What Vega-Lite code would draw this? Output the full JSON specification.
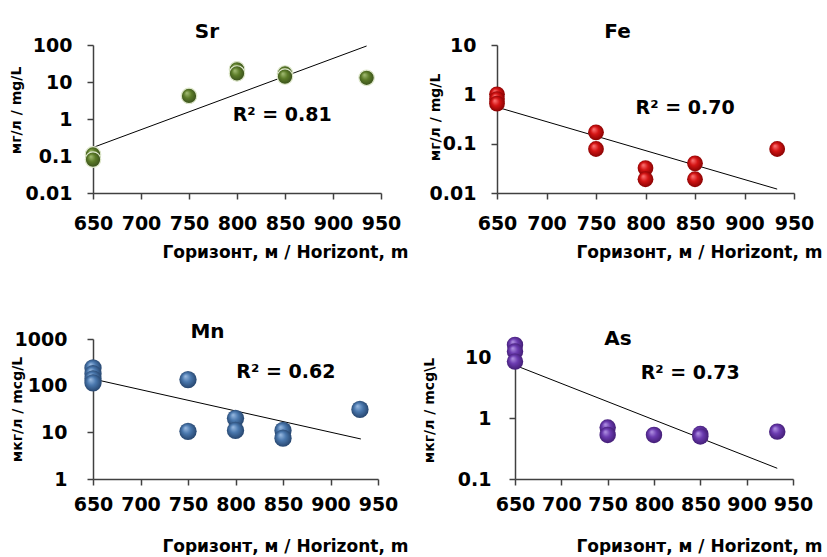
{
  "$schema": "https://vega.github.io/schema/vega-lite/v6.json",
  "background": "white",
  "padding": {"left": 9, "top": 22, "right": 2, "bottom": 1},
  "autosize": {"type": "pad"},
  "config": {
    "view": {"stroke": null},
    "font": "DejaVu Sans",
    "axis": {
      "grid": false,
      "labelFont": "DejaVu Sans", "labelFontWeight": "bold", "labelFontSize": 19, "labelColor": "#000",
      "titleFont": "DejaVu Sans", "titleFontWeight": "bold", "titleFontSize": 17, "titleColor": "#000",
      "domainColor": "#404040", "tickColor": "#404040", "domainWidth": 1.5, "tickWidth": 1.5, "tickSize": 6,
      "labelFlush": false, "labelOverlap": false
    },
    "title": {"font": "DejaVu Sans", "fontWeight": "bold", "fontSize": 20, "color": "#000", "baseline": "alphabetic", "anchor": "middle", "frame": "group"}
  },
  "datasets": {
    "sr": [{"h": 650, "v": 0.11}, {"h": 650, "v": 0.08}, {"h": 750, "v": 4.2}, {"h": 800, "v": 22}, {"h": 800, "v": 17}, {"h": 850, "v": 17}, {"h": 850, "v": 14}, {"h": 935, "v": 13}],
    "srTrend": [{"h": 650, "v": 0.17}, {"h": 935, "v": 94}],
    "fe": [{"h": 650, "v": 1.0}, {"h": 650, "v": 0.8}, {"h": 650, "v": 0.65}, {"h": 750, "v": 0.17}, {"h": 750, "v": 0.078}, {"h": 800, "v": 0.032}, {"h": 800, "v": 0.019}, {"h": 850, "v": 0.04}, {"h": 850, "v": 0.019}, {"h": 933, "v": 0.078}],
    "feTrend": [{"h": 650, "v": 0.55}, {"h": 933, "v": 0.012}],
    "mn": [{"h": 650, "v": 240}, {"h": 650, "v": 180}, {"h": 650, "v": 140}, {"h": 650, "v": 115}, {"h": 750, "v": 135}, {"h": 750, "v": 10.5}, {"h": 800, "v": 20}, {"h": 800, "v": 11}, {"h": 850, "v": 11}, {"h": 850, "v": 7.5}, {"h": 931, "v": 31}],
    "mnTrend": [{"h": 650, "v": 139}, {"h": 932, "v": 7.2}],
    "as": [{"h": 650, "v": 16}, {"h": 650, "v": 12.5}, {"h": 650, "v": 8.5}, {"h": 750, "v": 0.7}, {"h": 750, "v": 0.53}, {"h": 800, "v": 0.53}, {"h": 850, "v": 0.55}, {"h": 850, "v": 0.5}, {"h": 933, "v": 0.6}],
    "asTrend": [{"h": 650, "v": 7.4}, {"h": 933, "v": 0.15}],
    "srLab": [{"h": 847, "v": 1.28, "t": "R² = 0.81"}],
    "feLab": [{"h": 840, "v": 0.54, "t": "R² = 0.70"}],
    "mnLab": [{"h": 853, "v": 201, "t": "R² = 0.62"}],
    "asLab": [{"h": 839, "v": 5.57, "t": "R² = 0.73"}]
  },
  "spacing": 62,
  "vconcat": [
    {
      "spacing": 20,
      "hconcat": [
        {
          "width": 288, "height": 148,
          "title": {"text": "Sr", "offset": -6, "dx": -30},
          "encoding": {
            "x": {"field": "h", "type": "quantitative", "scale": {"domain": [650, 950], "nice": false, "zero": false},
              "axis": {"values": [650, 700, 750, 800, 850, 900, 950], "format": "d", "labelPadding": 15, "title": "Горизонт, м / Horizont, m", "titleAlign": "right", "titleX": 315, "titleY": 64, "titleBaseline": "alphabetic"}},
            "y": {"field": "v", "type": "quantitative", "scale": {"type": "log", "domain": [0.01, 100], "nice": false},
              "axis": {"values": [0.01, 0.1, 1, 10, 100], "format": "~g", "labelPadding": 15, "title": "мг/л / mg/L", "titleFontSize": 14, "titleX": -70, "titleY": 65, "titleAngle": 270, "titleAlign": "center", "titleBaseline": "bottom"}}
          },
          "layer": [
            {"data": {"name": "srTrend"}, "mark": {"type": "line", "color": "#000", "strokeWidth": 1}},
            {"data": {"name": "sr"}, "mark": {"type": "circle", "size": 240, "opacity": 1, "stroke": "#dfe8cc", "strokeWidth": 1.2,
              "fill": {"gradient": "radial", "x1": 0.35, "y1": 0.3, "r1": 0, "x2": 0.5, "y2": 0.5, "r2": 0.55, "stops": [{"offset": 0, "color": "#a6bf78"}, {"offset": 0.45, "color": "#5c7c28"}, {"offset": 1, "color": "#34491a"}]}}},
            {"data": {"name": "srLab"}, "mark": {"type": "text", "font": "DejaVu Sans", "fontWeight": "bold", "fontSize": 19, "color": "#000", "align": "center", "baseline": "middle"}, "encoding": {"text": {"field": "t"}}}
          ]
        },
        {
          "width": 297, "height": 148,
          "title": {"text": "Fe", "offset": -6, "dx": -28},
          "encoding": {
            "x": {"field": "h", "type": "quantitative", "scale": {"domain": [650, 950], "nice": false, "zero": false},
              "axis": {"values": [650, 700, 750, 800, 850, 900, 950], "format": "d", "labelPadding": 15, "title": "Горизонт, м / Horizont, m", "titleAlign": "right", "titleX": 325, "titleY": 64, "titleBaseline": "alphabetic"}},
            "y": {"field": "v", "type": "quantitative", "scale": {"type": "log", "domain": [0.01, 10], "nice": false},
              "axis": {"values": [0.01, 0.1, 1, 10], "format": "~g", "labelPadding": 15, "title": "мг/л / mg/L", "titleFontSize": 14, "titleX": -55, "titleY": 72, "titleAngle": 270, "titleAlign": "center", "titleBaseline": "bottom"}}
          },
          "layer": [
            {"data": {"name": "feTrend"}, "mark": {"type": "line", "color": "#000", "strokeWidth": 1}},
            {"data": {"name": "fe"}, "mark": {"type": "circle", "size": 250, "opacity": 1,
              "fill": {"gradient": "radial", "x1": 0.35, "y1": 0.3, "r1": 0, "x2": 0.5, "y2": 0.5, "r2": 0.55, "stops": [{"offset": 0, "color": "#ff7a7a"}, {"offset": 0.45, "color": "#d41414"}, {"offset": 1, "color": "#7e0000"}]}}},
            {"data": {"name": "feLab"}, "mark": {"type": "text", "font": "DejaVu Sans", "fontWeight": "bold", "fontSize": 19, "color": "#000", "align": "center", "baseline": "middle"}, "encoding": {"text": {"field": "t"}}}
          ]
        }
      ]
    },
    {
      "spacing": 14,
      "hconcat": [
        {
          "width": 285, "height": 140,
          "title": {"text": "Mn", "offset": -12, "dx": -28},
          "encoding": {
            "x": {"field": "h", "type": "quantitative", "scale": {"domain": [650, 950], "nice": false, "zero": false},
              "axis": {"values": [650, 700, 750, 800, 850, 900, 950], "format": "d", "labelPadding": 10, "title": "Горизонт, м / Horizont, m", "titleAlign": "right", "titleX": 315, "titleY": 72, "titleBaseline": "alphabetic"}},
            "y": {"field": "v", "type": "quantitative", "scale": {"type": "log", "domain": [1, 1000], "nice": false},
              "axis": {"values": [1, 10, 100, 1000], "format": "~g", "labelPadding": 20, "title": "мкг/л / mcg/L", "titleFontSize": 14, "titleX": -69, "titleY": 70, "titleAngle": 270, "titleAlign": "center", "titleBaseline": "bottom"}}
          },
          "layer": [
            {"data": {"name": "mnTrend"}, "mark": {"type": "line", "color": "#000", "strokeWidth": 1}},
            {"data": {"name": "mn"}, "mark": {"type": "circle", "size": 300, "opacity": 1,
              "fill": {"gradient": "radial", "x1": 0.35, "y1": 0.3, "r1": 0, "x2": 0.5, "y2": 0.5, "r2": 0.55, "stops": [{"offset": 0, "color": "#9dbde3"}, {"offset": 0.45, "color": "#4a78ae"}, {"offset": 1, "color": "#223f66"}]}}},
            {"data": {"name": "mnLab"}, "mark": {"type": "text", "font": "DejaVu Sans", "fontWeight": "bold", "fontSize": 19, "color": "#000", "align": "center", "baseline": "middle"}, "encoding": {"text": {"field": "t"}}}
          ]
        },
        {
          "width": 278, "height": 140,
          "title": {"text": "As", "offset": -12, "dx": -36},
          "encoding": {
            "x": {"field": "h", "type": "quantitative", "scale": {"domain": [650, 950], "nice": false, "zero": false},
              "axis": {"values": [650, 700, 750, 800, 850, 900, 950], "format": "d", "labelPadding": 10, "title": "Горизонт, м / Horizont, m", "titleAlign": "right", "titleX": 307, "titleY": 72, "titleBaseline": "alphabetic"}},
            "y": {"field": "v", "type": "quantitative", "scale": {"type": "log", "domain": [0.1, 20], "nice": false},
              "axis": {"values": [0.1, 1, 10], "format": "~g", "labelPadding": 18, "title": "мкг/л / mcg\\L", "titleFontSize": 14, "titleX": -79, "titleY": 71, "titleAngle": 270, "titleAlign": "center", "titleBaseline": "bottom"}}
          },
          "layer": [
            {"data": {"name": "asTrend"}, "mark": {"type": "line", "color": "#000", "strokeWidth": 1}},
            {"data": {"name": "as"}, "mark": {"type": "circle", "size": 270, "opacity": 1,
              "fill": {"gradient": "radial", "x1": 0.35, "y1": 0.3, "r1": 0, "x2": 0.5, "y2": 0.5, "r2": 0.55, "stops": [{"offset": 0, "color": "#b597e6"}, {"offset": 0.45, "color": "#6b3bb0"}, {"offset": 1, "color": "#3e1a6e"}]}}},
            {"data": {"name": "asLab"}, "mark": {"type": "text", "font": "DejaVu Sans", "fontWeight": "bold", "fontSize": 19, "color": "#000", "align": "center", "baseline": "middle"}, "encoding": {"text": {"field": "t"}}}
          ]
        }
      ]
    }
  ]
}
